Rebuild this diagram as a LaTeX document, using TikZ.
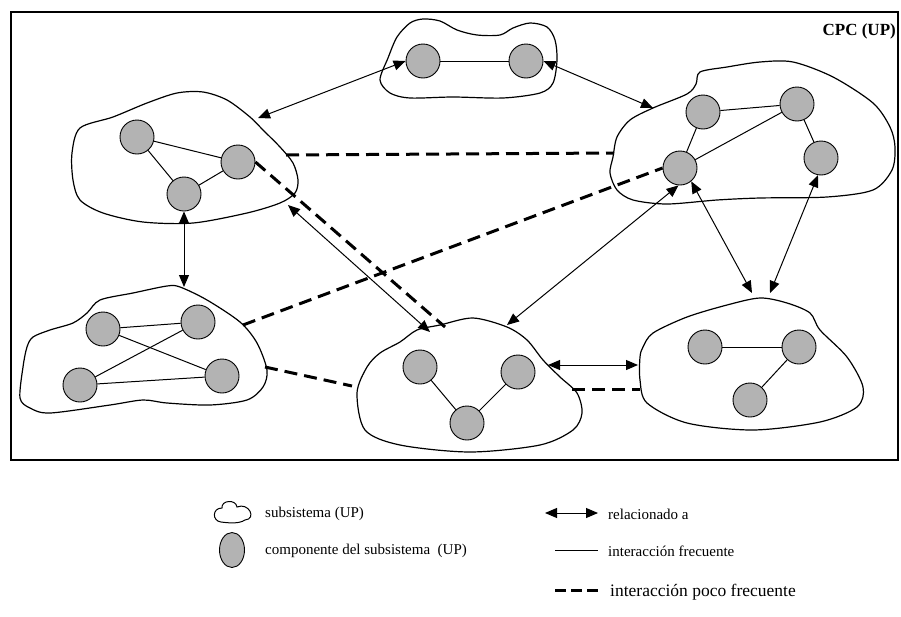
\documentclass[tikz,border=0pt]{standalone}
\usepackage{fontspec}
\setmainfont{Liberation Serif}
\usetikzlibrary{arrows.meta,shapes.geometric}
\definecolor{compgray}{RGB}{179,179,179}
\begin{document}
\begin{tikzpicture}[x=1pt,y=-1pt,
  comp/.style={circle,draw,fill=compgray,minimum size=34pt,inner sep=0pt,line width=0.9pt},
  blob/.style={draw,line width=1.2pt},
  freq/.style={line width=1pt},
  rel/.style={line width=1pt,>={Triangle[length=12pt,width=10pt]},<->},
  rare/.style={line width=3pt,dash pattern=on 13pt off 7pt},
  lbl/.style={font=\fontsize{15}{17}\selectfont,anchor=west,inner sep=0pt}
]
\useasboundingbox (0,0) rectangle (901,616);

% outer frame of the CPC
\draw[line width=1.3pt] (11,12) rectangle (898,460);
\node[font=\bfseries\fontsize{17}{19}\selectfont,anchor=east,inner sep=0pt] (cpc) at (896,31) {CPC (UP)};

% subsystem outlines
\draw[blob] plot[smooth cycle] coordinates {(380,80) (388,58) (397,37) (410,23) (423,19) (440,21) (457,30) (477,35) (500,35) (513,28) (530,23) (547,27) (555,40) (557,60) (553,83) (540,93) (503,98) (453,97) (410,98) (390,93)};
\draw[blob] plot[smooth cycle] coordinates {(80,128) (113,117) (147,103) (177,93) (203,92) (227,100) (250,117) (263,130) (280,147) (293,163) (298,180) (295,193) (280,203) (247,213) (193,223) (143,222) (103,213) (80,200) (73,180) (72,153)};
\draw[blob] plot[smooth cycle] coordinates {(700,72) (727,67) (760,62) (793,62) (833,77) (873,103) (890,127) (895,147) (892,170) (873,190) (827,197) (760,198) (717,200) (667,204) (633,200) (617,190) (610,173) (613,157) (617,137) (630,120) (653,108) (687,94) (696,84)};
\draw[blob] plot[smooth cycle] coordinates {(87,313) (100,300) (133,293) (167,286) (180,287) (207,300) (240,322) (257,343) (267,370) (263,387) (247,400) (210,405) (167,403) (143,400) (110,405) (50,413) (30,408) (20,398) (23,367) (27,347) (33,337) (50,330) (73,323)};
\draw[blob] plot[smooth cycle] coordinates {(417,330) (440,325) (473,318) (507,327) (527,340) (543,360) (560,377) (577,393) (582,413) (573,430) (540,445) (470,452) (400,445) (365,430) (357,393) (367,367) (380,353) (400,342)};
\draw[blob] plot[smooth cycle] coordinates {(760,298) (787,303) (810,313) (820,330) (847,357) (863,387) (857,407) (820,422) (753,430) (687,423) (647,403) (640,380) (640,357) (643,347) (653,333) (687,317) (727,305)};

% components
\node[comp] (t1) at (423,61) {};
\node[comp] (t2) at (526,61) {};
\node[comp] (tl1) at (137,137) {};
\node[comp] (tl2) at (238,162) {};
\node[comp] (tl3) at (184,194) {};
\node[comp] (tr1) at (703,112) {};
\node[comp] (tr2) at (797,104) {};
\node[comp] (tr3) at (680,168) {};
\node[comp] (tr4) at (821,158) {};
\node[comp] (bl1) at (103,329) {};
\node[comp] (bl2) at (198,322) {};
\node[comp] (bl3) at (80,385) {};
\node[comp] (bl4) at (222,376) {};
\node[comp] (bc1) at (420,367) {};
\node[comp] (bc2) at (518,372) {};
\node[comp] (bc3) at (467,423) {};
\node[comp] (br1) at (705,347) {};
\node[comp] (br2) at (799,347) {};
\node[comp] (br3) at (750,400) {};

% points on the subsystem outlines
\coordinate (tlNE) at (258,118);
\coordinate (tlE) at (286,155);
\coordinate (tlSE) at (288,205);
\coordinate (trW) at (653,108);
\coordinate (trWd) at (614,153);
\coordinate (blTop) at (184,287);
\coordinate (blNE) at (243,325);
\coordinate (blE) at (265,367);
\coordinate (bcNW) at (430,332);
\coordinate (bcN) at (445,327);
\coordinate (bcNE) at (507,325);
\coordinate (bcW) at (352,386);
\coordinate (bcE) at (548,365);
\coordinate (bcE2) at (572,389);
\coordinate (brTopA) at (752,293);
\coordinate (brTopB) at (770,293);
\coordinate (brW) at (638,365);
\coordinate (brW2) at (640,389);

% frequent interaction inside each subsystem
\draw[freq] (t1) -- (t2);
\draw[freq] (tl1) -- (tl2);
\draw[freq] (tl1) -- (tl3);
\draw[freq] (tl3) -- (tl2);
\draw[freq] (tr1) -- (tr2);
\draw[freq] (tr1) -- (tr3);
\draw[freq] (tr3) -- (tr2);
\draw[freq] (tr2) -- (tr4);
\draw[freq] (bl1) -- (bl2);
\draw[freq] (bl1) -- (bl4);
\draw[freq] (bl3) -- (bl2);
\draw[freq] (bl3) -- (bl4);
\draw[freq] (bc1) -- (bc3);
\draw[freq] (bc2) -- (bc3);
\draw[freq] (br1) -- (br2);
\draw[freq] (br2) -- (br3);

% "related to" links
\draw[rel] (t1.west) -- (tlNE);
\draw[rel] (t2.east) -- (trW);
\draw[rel] (tl3.south) -- (blTop);
\draw[rel] (tlSE) -- (bcNW);
\draw[rel] (tr3.-95) -- (bcNE);
\draw[rel] (tr3.-50) -- (brTopA);
\draw[rel] (tr4.-100) -- (brTopB);
\draw[rel] (bcE) -- (brW);

% infrequent interaction
\draw[rare] (tlE) -- (trWd);
\draw[rare] (tl2.east) -- (bcN);
\draw[rare] (blNE) -- (tr3.west);
\draw[rare] (blE) -- (bcW);
\draw[rare] (bcE2) -- (brW2);

% legend
\draw[line width=1pt] (221,522) .. controls (212,521) and (212,508) .. (222,508)
  .. controls (221,500) and (236,499) .. (237,507)
  .. controls (249,502) and (257,519) .. (245,520)
  .. controls (239,524) and (229,523) .. (221,522) -- cycle;
\node[lbl] (lg1) at (265,514) {subsistema (UP)};
\node[ellipse,draw,fill=compgray,minimum width=25pt,minimum height=35pt,inner sep=0pt,line width=0.9pt] (lgcomp) at (232,550) {};
\node[lbl] (lg2) at (265,551) {componente del subsistema\ \ (UP)};
\coordinate (lgrA) at (545,513);
\coordinate (lgrB) at (598,513);
\draw[rel] (lgrA) -- (lgrB);
\node[lbl] (lg3) at (608,514) {relacionado a};
\coordinate (lgfA) at (555,550);
\coordinate (lgfB) at (598,550);
\draw[freq] (lgfA) -- (lgfB);
\node[lbl] (lg4) at (608,551) {interacción frecuente};
\coordinate (lgdA) at (555,590);
\coordinate (lgdB) at (598,590);
\draw[rare,dash pattern=on 11pt off 5pt] (lgdA) -- (lgdB);
\node[lbl,font=\fontsize{17.5}{19}\selectfont] (lg5) at (610,592) {interacción poco frecuente};
\end{tikzpicture}
\end{document}
